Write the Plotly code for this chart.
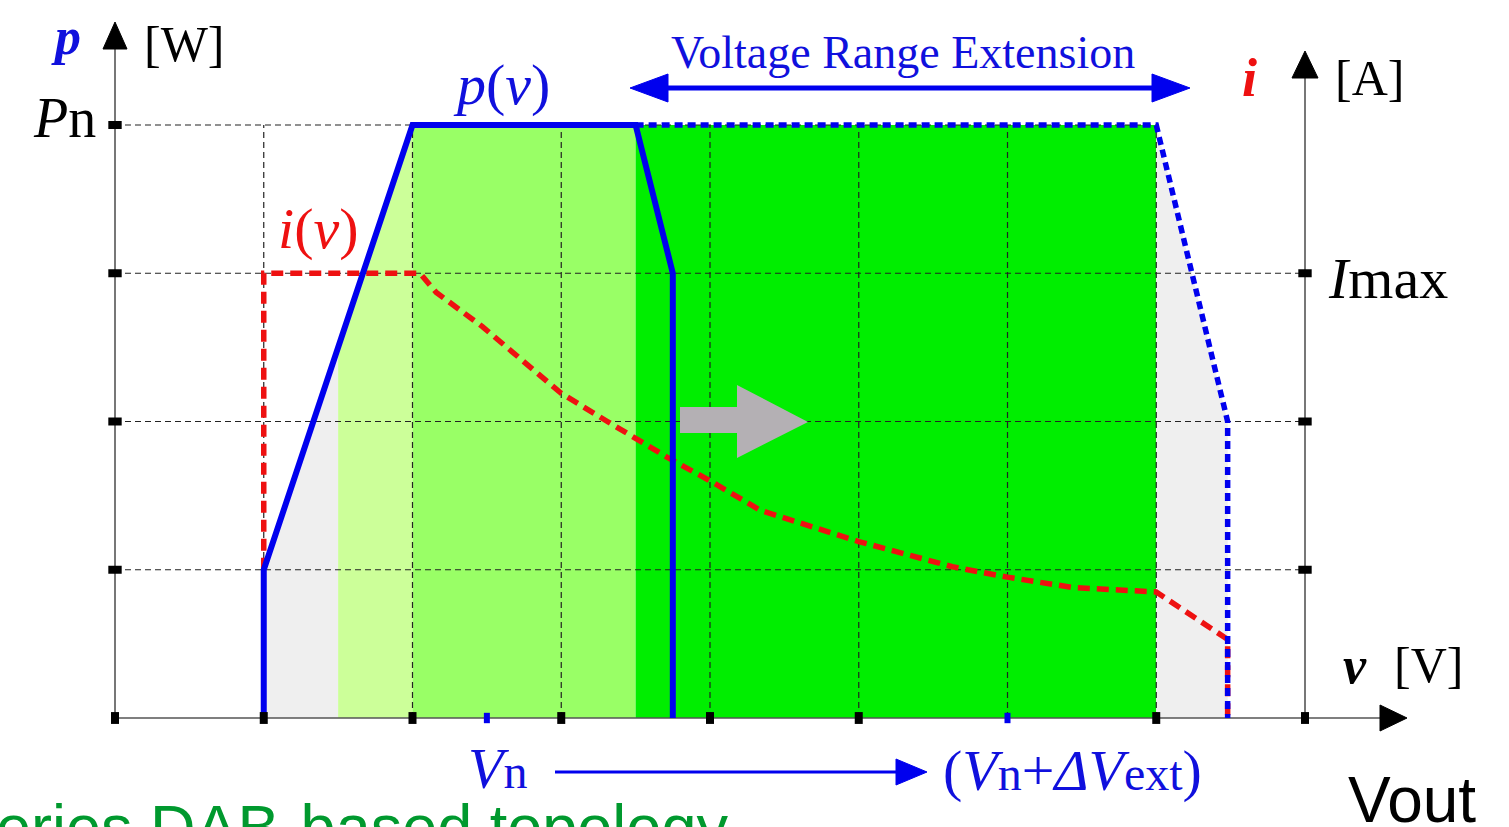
import numpy as np
import plotly.graph_objects as go

W, H = 1509, 827
# pixel -> data mapping of the schematic grid (one grid step ~148.5 px)
X0, XS = 115.0, 148.75
Y0, YS = 718.0, 148.25

# ---------------- data (grid units) ----------------
grid_v = [0, 1, 2, 3, 4, 5, 6, 7, 8]
grid_levels = [1, 2, 3, 4]

# p(v) nominal (solid) and extended (dotted)
p_solid_v = [1.0, 1.0, 2.0, 3.5, 3.75, 3.75]
p_solid = [0.0, 1.0, 4.0, 4.0, 3.0, 0.0]
p_ext_v = [3.5, 7.0, 7.48, 7.48]
p_ext = [4.0, 4.0, 2.0, 0.0]

# i(v) curve
i_v = [1.0, 1.0, 2.05, 2.16, 2.47, 2.77, 3.0, 3.31, 3.71, 4.0, 4.34, 5.0, 5.63, 6.0, 6.44, 7.0, 7.48, 7.48]
i_val = [1.0, 3.0, 3.0, 2.87, 2.64, 2.39, 2.19, 2.0, 1.76, 1.60, 1.40, 1.19, 1.02, 0.95, 0.88, 0.85, 0.53, 0.0]

# operating zones under the power envelope
env_v = [1.0, 2.0, 7.0, 7.48]
env_p = [1.0, 4.0, 4.0, 2.0]
zone_edges = [1.0, 1.5, 2.0, 3.5, 7.0, 7.48]
zone_colors = ["#efefef", "#ccff99", "#99ff66", "#00ee00", "#efefef"]

black_ticks_v = [0, 1, 2, 3, 4, 5, 7, 8]
blue_ticks_v = [2.5, 6]
left_ticks = [1, 2, 3, 4]
right_ticks = [1, 2, 3]


def px(x, y):
    """pixel position -> data units (for decorations)"""
    return (x - X0) / XS, (Y0 - y) / YS


def pp(x, y):
    """pixel position -> paper coords"""
    return x / W, 1 - y / H


fig = go.Figure()

# zone fills
for a, b, c in zip(zone_edges[:-1], zone_edges[1:], zone_colors):
    inner = [v for v in env_v if a < v < b]
    xs = [a, a] + inner + [b, b]
    ys = [0, float(np.interp(a, env_v, env_p))] + [float(np.interp(v, env_v, env_p)) for v in inner] + [float(np.interp(b, env_v, env_p)), 0]
    fig.add_trace(go.Scatter(x=xs, y=ys, fill="toself", fillcolor=c, mode="none", hoverinfo="skip", showlegend=False))

# dashed grid
gx, gy = [], []
for v in grid_v[1:-1]:
    gx += [v, v, None]
    gy += [0, 4, None]
for lv in grid_levels:
    gx += [0, 8 if lv < 4 else 7, None]
    gy += [lv, lv, None]
fig.add_trace(go.Scatter(x=gx, y=gy, mode="lines", line=dict(color="#222222", width=1.2, dash="6px,4px"),
                         hoverinfo="skip", showlegend=False))

# gray block arrow (shift to the right)
arrow_px = [(680, 407), (737, 407), (737, 385), (808, 422), (737, 458), (737, 433), (680, 433), (680, 407)]
ax_, ay_ = zip(*[px(*p) for p in arrow_px])
fig.add_trace(go.Scatter(x=list(ax_), y=list(ay_), fill="toself", fillcolor="#b4b0b4", mode="none",
                         hoverinfo="skip", showlegend=False))

# axes lines
lax = [px(115, 718), px(115, 46)]
rax = [px(1305, 718), px(1305, 76)]
xax = [px(115, 718), px(1383, 718)]
for seg in (lax, rax, xax):
    fig.add_trace(go.Scatter(x=[seg[0][0], seg[1][0]], y=[seg[0][1], seg[1][1]], mode="lines",
                             line=dict(color="#555555", width=1.6), hoverinfo="skip", showlegend=False))

# arrow heads (black)
heads = [
    [(115, 22), (103, 49), (127, 49)],
    [(1305, 51), (1292, 78), (1318, 78)],
    [(1407, 718), (1380, 705), (1380, 731)],
]
for hd in heads:
    hx, hy = zip(*[px(*p) for p in hd + [hd[0]]])
    fig.add_trace(go.Scatter(x=list(hx), y=list(hy), fill="toself", fillcolor="black", mode="lines",
                             line=dict(color="black", width=1), hoverinfo="skip", showlegend=False))

# i(v) red dashed
fig.add_trace(go.Scatter(x=i_v, y=i_val, mode="lines", line=dict(color="#ee1111", width=5.5, dash="12px,7px"),
                         hoverinfo="skip", showlegend=False))
# p(v) solid blue
fig.add_trace(go.Scatter(x=p_solid_v, y=p_solid, mode="lines", line=dict(color="#0000ee", width=6),
                         hoverinfo="skip", showlegend=False))
# p(v) extension dotted
fig.add_trace(go.Scatter(x=p_ext_v, y=p_ext, mode="lines", line=dict(color="#0000ee", width=5.5, dash="8px,5px"),
                         hoverinfo="skip", showlegend=False))

# tick blocks
tx, ty = [], []
for v in black_ticks_v:
    tx += [v, v, None]
    ty += [-0.04, 0.04, None]
fig.add_trace(go.Scatter(x=tx, y=ty, mode="lines", line=dict(color="black", width=8), hoverinfo="skip", showlegend=False))
bx, by = [], []
for v in blue_ticks_v:
    bx += [v, v, None]
    by += [-0.035, 0.035, None]
fig.add_trace(go.Scatter(x=bx, y=by, mode="lines", line=dict(color="#0000ee", width=6), hoverinfo="skip", showlegend=False))
hx_, hy_ = [], []
for lv in left_ticks:
    hx_ += [-0.045, 0.045, None]
    hy_ += [lv, lv, None]
for lv in right_ticks:
    hx_ += [8 - 0.045, 8 + 0.045, None]
    hy_ += [lv, lv, None]
fig.add_trace(go.Scatter(x=hx_, y=hy_, mode="lines", line=dict(color="black", width=8), hoverinfo="skip", showlegend=False))


# blue double arrow (Voltage Range Extension) and Vn arrow
def add_line_arrow(p0, p1, width, heads_at):
    (x0, y0), (x1, y1) = px(*p0), px(*p1)
    fig.add_trace(go.Scatter(x=[x0, x1], y=[y0, y1], mode="lines", line=dict(color="#0000ee", width=width),
                             hoverinfo="skip", showlegend=False))
    for tri in heads_at:
        tx2, ty2 = zip(*[px(*p) for p in tri + [tri[0]]])
        fig.add_trace(go.Scatter(x=list(tx2), y=list(ty2), fill="toself", fillcolor="#0000ee", mode="lines",
                                 line=dict(color="#0000ee", width=1), hoverinfo="skip", showlegend=False))


add_line_arrow((660, 88), (1160, 88), 5,
               [[(630, 88), (668, 74), (668, 102)], [(1190, 88), (1152, 74), (1152, 102)]])
add_line_arrow((555, 772), (900, 772), 3,
               [[(927, 772), (896, 759), (896, 785)]])

SERIF = "Liberation Serif"
BLUE = "#1010dd"


def label(text, x, y, size, color="black", family=SERIF, xanchor="center", yanchor="middle"):
    X, Y = pp(x, y)
    fig.add_annotation(x=X, y=Y, xref="paper", yref="paper", text=text, showarrow=False,
                       xanchor=xanchor, yanchor=yanchor, font=dict(family=family, size=size, color=color))


label("<b><i>p</i></b>", 66, 36, 52, BLUE)
label("[W]", 184, 44, 50)
label("<i>P</i>n", 64, 118, 56)
label("<i>p</i>(<i>v</i>)", 502, 84, 58, BLUE)
label("<i>i</i>(<i>v</i>)", 318, 228, 58, "#ee1111")
label("Voltage Range Extension", 903, 52, 46, BLUE)
label("<b><i>i</i></b>", 1249, 78, 54, "#ee1111")
label("[A]", 1369, 78, 50)
label("<i>I</i>max", 1388, 278, 58)
label("<b><i>v</i></b>", 1355, 665, 52)
label("[V]", 1428, 665, 50)
label("<i>V</i><span style='font-size:48px'>n</span>", 497, 768, 58, BLUE)
label("(<i>V</i><span style='font-size:48px'>n</span>+<i>ΔV</i><span style='font-size:48px'>ext</span>)",
      1072, 770, 58, BLUE)
label("Vout", 1412, 800, 64, family="Liberation Sans")
label("Series DAB-based topology", -48, 864, 63, "#00992e", family="Liberation Sans", xanchor="left", yanchor="bottom")

fig.update_layout(
    width=W, height=H, margin=dict(l=0, r=0, t=0, b=0),
    paper_bgcolor="white", plot_bgcolor="white",
    xaxis=dict(range=[(0 - X0) / XS, (W - X0) / XS], visible=False, fixedrange=True),
    yaxis=dict(range=[(Y0 - H) / YS, Y0 / YS], visible=False, fixedrange=True),
    showlegend=False,
)

fig.write_html("out.html", config={"displayModeBar": False},
               post_script="document.body.style.margin='0';")
